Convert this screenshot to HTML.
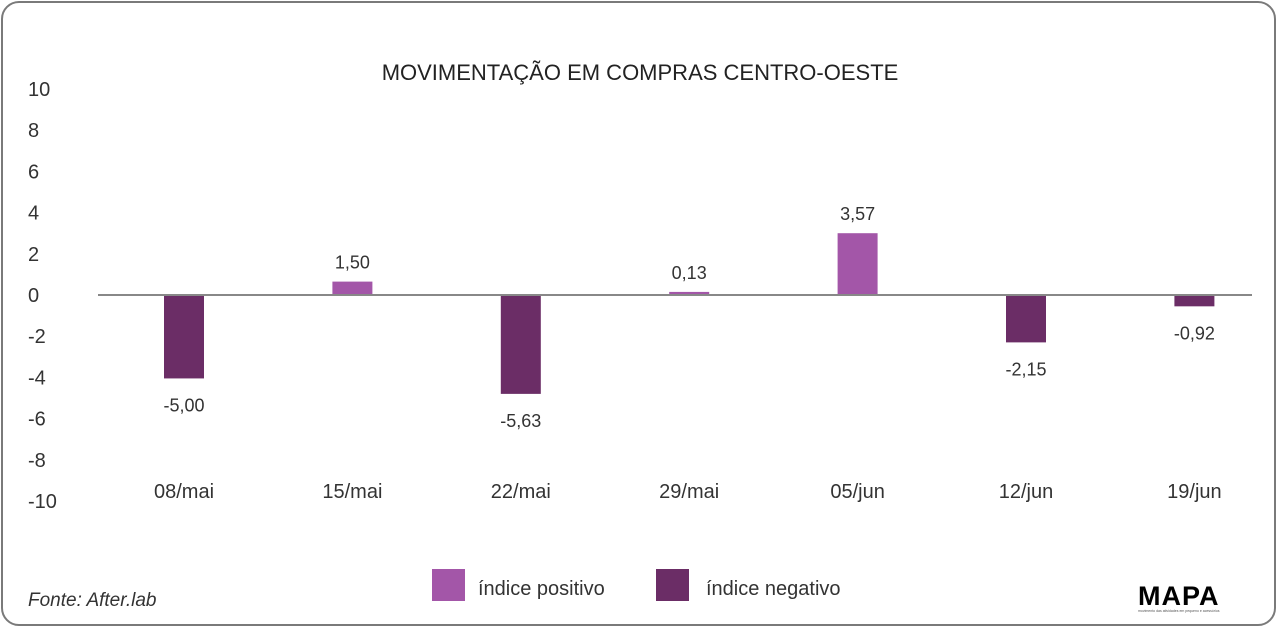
<!DOCTYPE html>
<html><head><meta charset="utf-8"><style>
html,body{margin:0;padding:0;background:#fff;}
body{width:1280px;height:628px;position:relative;overflow:hidden;font-family:"Liberation Sans",sans-serif;}
#frame{position:absolute;left:1px;top:1px;width:1275px;height:625px;border:2px solid #7a7a7a;border-radius:18px;box-sizing:border-box;}
svg{position:absolute;left:0;top:0;}
</style></head><body>
<div id="frame"></div>
<svg id="chart" width="1280" height="628">
<text x="640" y="80" text-anchor="middle" font-size="22" fill="#222">MOVIMENTAÇÃO EM COMPRAS CENTRO-OESTE</text>
<g id="yticks"></g><g id="bars"></g><g id="xlabels"></g><g id="vlabels"></g>
<g>
<rect x="432" y="569" width="33" height="32" fill="#a356a8"/>
<text x="478" y="595" font-size="20" fill="#333">índice positivo</text>
<rect x="656" y="569" width="33" height="32" fill="#6b2d66"/>
<text x="706" y="595" font-size="20" fill="#333">índice negativo</text>
</g>
<text x="28" y="606" font-size="19" font-style="italic" fill="#333">Fonte: After.lab</text>
<text x="1138" y="605" font-size="27" font-weight="bold" fill="#000" letter-spacing="1">MAPA</text>
<text x="1138" y="612" font-size="3.5" fill="#555">movimento das atividades em pequeno e acessórios</text>
</svg>
<script>
const categories=["08/mai","15/mai","22/mai","29/mai","05/jun","12/jun","19/jun"];
const barValues=[-4.05,0.65,-4.8,0.15,3.0,-2.3,-0.55];
const labelValues=["-5,00","1,50","-5,63","0,13","3,57","-2,15","-0,92"];
const yTicks=[10,8,6,4,2,0,-2,-4,-6,-8,-10];
const NS="http://www.w3.org/2000/svg";
const y0=295,ppu=20.6;
function yScale(v){return y0-v*ppu;}
function xScale(i){return 184+i*168.4;}
function mk(tag,attrs,parent){const e=document.createElementNS(NS,tag);for(const k in attrs)e.setAttribute(k,attrs[k]);parent.appendChild(e);return e;}
const yt=document.getElementById('yticks');
yTicks.forEach(t=>{const e=mk('text',{x:28,y:yScale(t)+7,'font-size':20,fill:'#333'},yt);


e.textContent=String(t);});
const bars=document.getElementById('bars');
barValues.forEach((v,i)=>{const top=Math.min(yScale(v),y0),h=Math.abs(yScale(v)-y0);
const r=mk('rect',{x:xScale(i)-20,y:top,width:40,height:h,fill:v>=0?'#a356a8':'#6b2d66'},bars);


const l=mk('text',{x:xScale(i),y:v>=0?top-13:top+h+33,'text-anchor':'middle','font-size':18,fill:'#333'},document.getElementById('vlabels'));


l.textContent=labelValues[i];});
const ax=mk('line',{x1:98,x2:1252,y1:y0,y2:y0,stroke:'#888','stroke-width':2},bars);


const xl=document.getElementById('xlabels');
categories.forEach((c,i)=>{const e=mk('text',{x:xScale(i),y:498,'text-anchor':'middle','font-size':20,fill:'#333'},xl);


e.textContent=c;});
</script>
</body></html>
